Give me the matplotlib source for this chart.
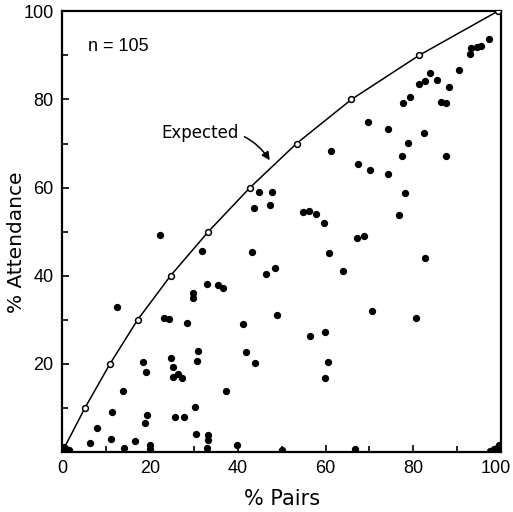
import numpy as np
import matplotlib
matplotlib.use('Agg')
import matplotlib.pyplot as plt
import matplotlib.transforms as mtransforms

plt.rcParams['font.family'] = ['DejaVu Sans']

# Curva esperada (pontos abertos)
exp_x = [0, 5.2, 10.9, 17.2, 24.7, 33.3, 42.8, 53.4, 65.9, 81.3, 99.2]
exp_y = [0, 10, 20, 30, 40, 50, 60, 70, 80, 90, 100]

# Dados observados (n = 105)
pairs = [22.3, 31.9, 33.1, 35.6, 36.7, 29.8, 29.8, 12.4, 23.3, 24.4,
         28.5, 30.9, 30.7, 24.9, 25.3, 25.3, 26.5, 27.3, 18.5, 19.0,
         13.8, 11.4, 19.3, 18.8, 25.8, 27.7, 30.3, 8.0, 6.3, 11.1,
         16.6, 14.1, 20.1, 20.1, 30.6, 33.2, 33.2, 33.1,
         43.8, 47.4, 54.9, 56.2, 57.8, 59.7, 67.1, 43.2, 60.8, 46.4,
         48.5, 63.9, 49.0, 41.3, 56.4, 59.9, 41.9, 44.0, 60.5, 59.8,
         37.4, 39.8, 50.1, 66.8,
         92.9, 93.2, 94.6, 95.3, 97.2, 90.3, 83.7, 85.3, 81.3, 82.7,
         88.2, 79.3, 77.7, 86.3, 87.5, 69.6, 74.2, 82.4, 78.7, 77.4,
         87.5, 67.5, 70.2, 74.2, 78.0, 76.8, 68.8, 82.7, 70.5, 80.5,
         61.2, 44.8, 47.8,
         0.3, 0.8, 1.5, 0.4,
         97.5, 98.3, 99.0, 99.5, 99.7, 98.8]
attendance = [49.2, 45.7, 38.1, 37.9, 37.3, 36.1, 34.9, 32.9, 30.5, 30.3,
              29.3, 22.9, 20.7, 21.3, 19.3, 17.1, 17.7, 16.8, 20.5, 18.2,
              13.9, 9.1, 8.4, 6.5, 7.9, 7.9, 10.3, 5.4, 2.1, 2.9,
              2.6, 1.0, 1.7, 0.6, 4.2, 3.9, 2.7, 0.9,
              55.4, 56.1, 54.4, 54.6, 54.1, 52.0, 48.5, 45.5, 45.1, 40.5,
              41.7, 41.0, 31.0, 29.0, 26.4, 27.2, 22.8, 20.2, 20.4, 16.9,
              13.9, 1.6, 0.5, 0.7,
              90.4, 91.6, 91.8, 92.2, 93.7, 86.6, 86.1, 84.5, 83.6, 84.1,
              82.8, 80.6, 79.1, 79.4, 79.1, 74.8, 73.4, 72.3, 70.1, 67.1,
              67.1, 65.4, 63.9, 63.0, 58.8, 53.7, 49.1, 44.1, 32.0, 30.5,
              68.2, 59.0, 58.9,
              0.3, 0.8, 0.4, 1.2,
              0.3, 0.6, 1.0, 1.6, 0.4, 0.2]

fig = plt.figure(figsize=(5.13, 5.12), dpi=100)
ax = fig.add_axes([0.121, 0.117, 0.856, 0.861])

ax.plot(exp_x, exp_y, color='black', linewidth=1.1, zorder=2)
ax.plot(exp_x[1:], exp_y[1:], linestyle='none', marker='o', markersize=4.2,
        markerfacecolor='white', markeredgecolor='black', markeredgewidth=1.1, zorder=3)
ax.scatter(pairs, attendance, s=18, color='black', zorder=4)

ax.set_xlim(0, 100)
ax.set_ylim(0, 100)
ax.set_xticks([0, 20, 40, 60, 80, 100])
ax.set_yticks([20, 40, 60, 80, 100])
ax.set_xticks(np.arange(10, 100, 20), minor=True)
ax.set_yticks(np.arange(10, 100, 20), minor=True)
ax.tick_params(direction='in', length=5, width=1.2, labelsize=13, pad=6)
ax.tick_params(which='minor', direction='in', length=4, width=1.2)
for lab in ax.get_xticklabels() + ax.get_yticklabels():
    lab.set_fontfamily('Liberation Sans')
# el "100" del eje x queda un poco a la izquierda, como en el original
last = ax.get_xticklabels()[-1]
last.set_transform(last.get_transform() +
                   mtransforms.ScaledTranslation(-5 / 100, 0, fig.dpi_scale_trans))
for s in ax.spines.values():
    s.set_linewidth(1.6)

ax.set_xlabel('% Pairs', fontsize=15, labelpad=8)
ax.set_ylabel('% Attendance', fontsize=14.5)
ax.yaxis.set_label_coords(-0.083, 0.475)

ax.text(5.9, 92, 'n = 105', fontsize=13, va='center', ha='left',
        family='Liberation Sans')
ax.annotate('Expected', xy=(47.3, 66.2), xytext=(22.7, 72.3),
            fontsize=12, va='center', ha='left',
            arrowprops=dict(arrowstyle='-|>', color='black', lw=1.1,
                            connectionstyle='arc3,rad=-0.35',
                            shrinkA=2, shrinkB=0, mutation_scale=12))

plt.savefig('out.png', dpi=100)
